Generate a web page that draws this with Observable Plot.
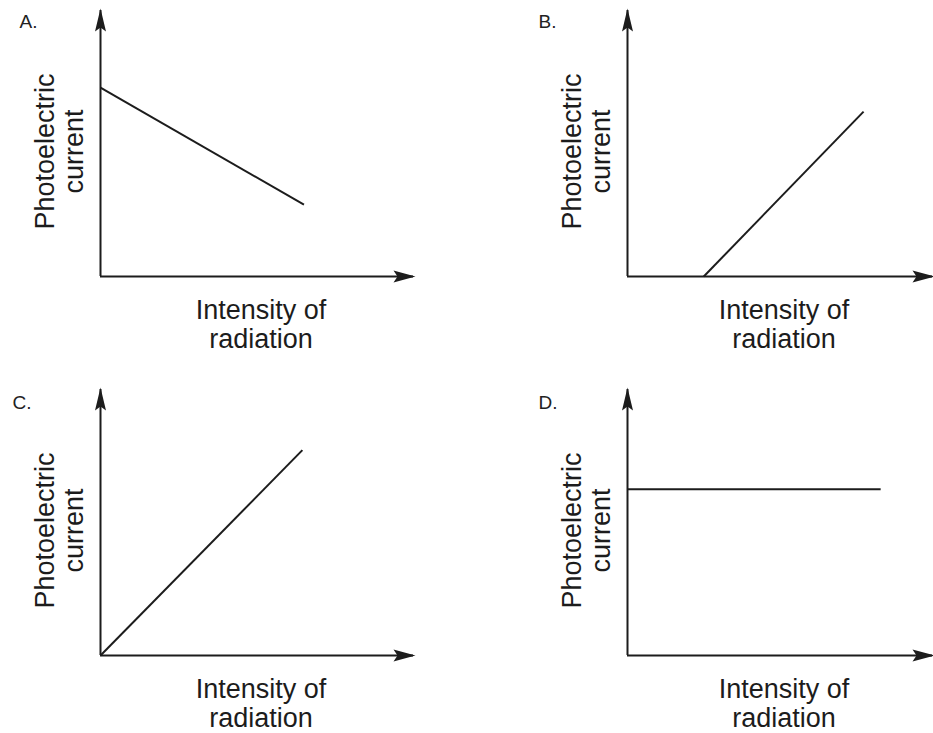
<!DOCTYPE html>
<html>
<head>
<meta charset="utf-8">
<script src="https://cdn.jsdelivr.net/npm/d3@7"></script>
<script src="https://cdn.jsdelivr.net/npm/@observablehq/plot@0.6"></script>
<style>
  html, body { margin: 0; padding: 0; background: #fff; }
  #wrap { position: relative; width: 933px; height: 733px; overflow: hidden; background: #fff; }
  .panel { position: absolute; }
</style>
</head>
<body>
<div id="wrap"></div>
<script>
// ---- data ----
const panels = ["A.", "B.", "C.", "D."];
// endpoints of the plotted line in each panel (x: intensity, y: current), axes 0..10
const lineX = [[0, 6.5], [2.5, 7.74], [0, 6.45], [0, 8.3]];
const lineY = [[7.1, 2.7], [0, 6.2], [0, 7.72], [6.25, 6.25]];
const axisMax = 10;
const xLabel = "Intensity of\nradiation";
const yLabel = "Photoelectric\ncurrent";

// ---- layout ----
const layout = [
  {left: 0,   top: 0,   width: 466, marginRight: 53, letterDx: -81, letterDy: 17},
  {left: 527, top: 0,   width: 406, marginRight: 1,  letterDx: -89, letterDy: 17},
  {left: 0,   top: 379, width: 466, marginRight: 53, letterDx: -88, letterDy: 19},
  {left: 527, top: 379, width: 406, marginRight: 1,  letterDx: -89, letterDy: 19}
];

const ink = "#1c1c1c";
const font = "Liberation Sans, Arial, Helvetica, sans-serif";

const headUp = {draw(ctx) { ctx.moveTo(0, -2); ctx.lineTo(5.5, 21); ctx.lineTo(0, 17); ctx.lineTo(-5.5, 21); ctx.closePath(); }};
const headRight = {draw(ctx) { ctx.moveTo(2, 0); ctx.lineTo(-20, 6); ctx.lineTo(-16, 0); ctx.lineTo(-20, -6); ctx.closePath(); }};

const wrap = document.getElementById("wrap");

panels.forEach((name, i) => {
  const L = layout[i];
  const pts = lineX[i].map((x, k) => ({x, y: lineY[i][k]}));
  const chart = Plot.plot({
    width: L.width,
    height: 354,
    marginLeft: 100,
    marginRight: L.marginRight,
    marginTop: 10,
    marginBottom: 78,
    x: {domain: [0, axisMax], axis: null},
    y: {domain: [0, axisMax], axis: null},
    style: {fontFamily: font, color: ink, background: "transparent", overflow: "visible"},
    marks: [
      Plot.ruleX([0], {stroke: ink, strokeWidth: 2}),
      Plot.ruleY([0], {stroke: ink, strokeWidth: 2}),
      Plot.dot([{x: 0, y: axisMax}], {x: "x", y: "y", symbol: headUp, fill: ink, stroke: "none"}),
      Plot.dot([{x: axisMax, y: 0}], {x: "x", y: "y", symbol: headRight, fill: ink, stroke: "none"}),
      Plot.line(pts, {x: "x", y: "y", stroke: ink, strokeWidth: 2, strokeLinecap: "butt"}),
      Plot.text([yLabel], {
        text: d => d, frameAnchor: "left", rotate: -90, textAnchor: "middle",
        lineAnchor: "top", lineHeight: 1.08, fontSize: 27, dx: -67, dy: 8, fill: ink
      }),
      Plot.text([xLabel], {
        text: d => d, frameAnchor: "bottom", textAnchor: "middle",
        lineAnchor: "top", lineHeight: 1.08, fontSize: 27, dx: 4, dy: 22, fill: ink
      }),
      Plot.text([name], {
        text: d => d, frameAnchor: "top-left", textAnchor: "start",
        lineAnchor: "bottom", fontSize: 19, dx: L.letterDx, dy: L.letterDy, fill: "#222"
      })
    ]
  });
  const div = document.createElement("div");
  div.className = "panel";
  div.style.left = L.left + "px";
  div.style.top = L.top + "px";
  div.appendChild(chart);
  wrap.appendChild(div);
});
</script>
</body>
</html>
